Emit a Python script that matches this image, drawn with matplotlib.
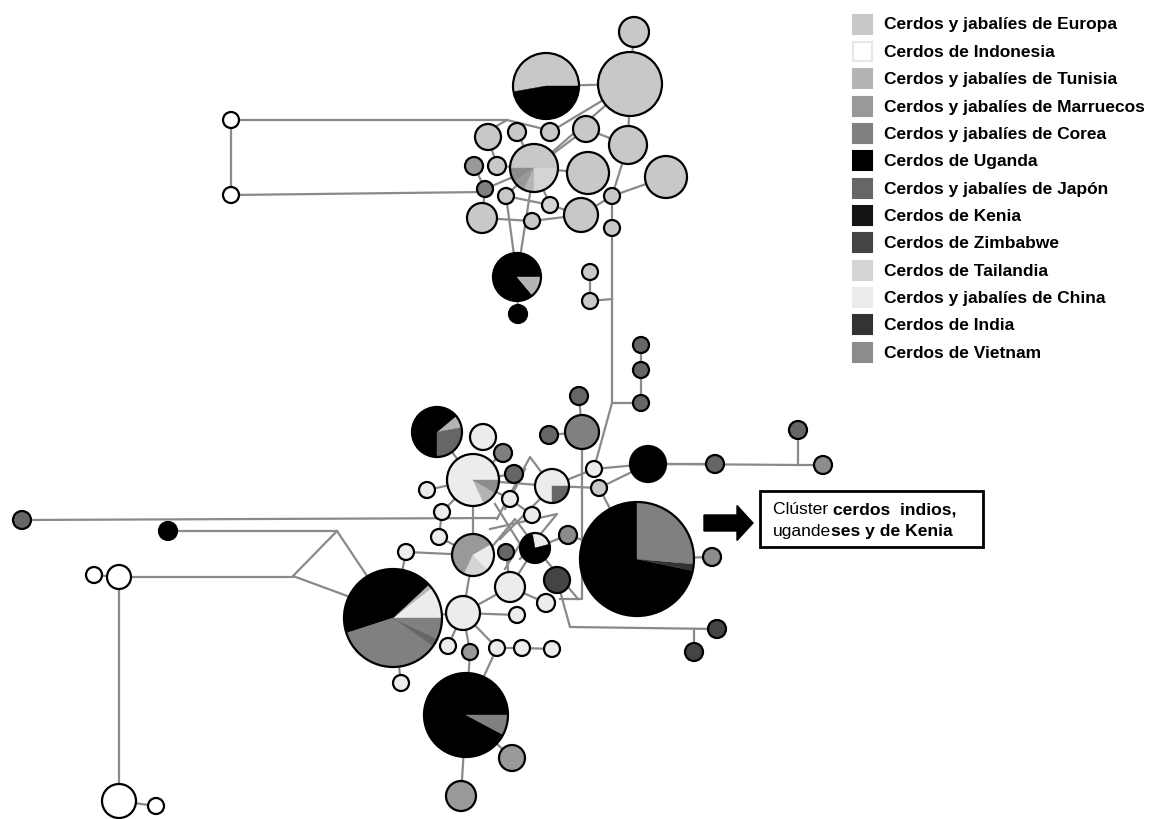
import matplotlib
matplotlib.use("Agg")
import matplotlib.pyplot as plt
from matplotlib.patches import Wedge, Circle, Rectangle, FancyArrow
from matplotlib import font_manager

# ---------------- legend categories ----------------
categories = [
    "Cerdos y jabalíes de Europa",
    "Cerdos de Indonesia",
    "Cerdos y jabalíes de Tunisia",
    "Cerdos y jabalíes de Marruecos",
    "Cerdos y jabalíes de Corea",
    "Cerdos de Uganda",
    "Cerdos y jabalíes de Japón",
    "Cerdos de Kenia",
    "Cerdos de Zimbabwe",
    "Cerdos de Tailandia",
    "Cerdos y jabalíes de China",
    "Cerdos de India",
    "Cerdos de Vietnam",
]
cat_colors = ["#c8c8c8", "#ffffff", "#b4b4b4", "#999999", "#808080", "#000000",
              "#666666", "#141414", "#444444", "#d4d4d4", "#ececec", "#333333",
              "#8c8c8c"]

# ---------------- haplotype nodes (layout position, radius) ----------------
node_x = [634, 546, 630, 231, 231, 488, 517, 550, 586, 628, 534, 474, 497, 588, 666,
          485, 506, 550, 482, 532, 581, 612, 612, 517, 518, 590, 590,
          641, 641, 641, 579, 582, 549, 437, 483, 503, 473, 514, 427, 510, 552,
          594, 599, 648, 715, 798, 823, 442, 532, 439, 473, 506, 535, 568, 406,
          637, 712, 510, 557, 546, 517, 463, 393, 448, 470, 497, 522, 552, 401,
          466, 512, 461, 717, 694, 22, 168, 94, 119, 119, 156]
node_y = [33, 87, 85, 121, 196, 138, 133, 133, 130, 146, 169, 167, 167, 174, 178,
          190, 197, 206, 219, 222, 216, 197, 229, 278, 315, 273, 302,
          346, 371, 404, 397, 433, 436, 433, 438, 454, 481, 475, 491, 500, 487,
          470, 489, 465, 465, 431, 466, 513, 516, 538, 556, 553, 549, 536, 553,
          560, 558, 588, 581, 604, 616, 614, 619, 647, 653, 649, 649, 650, 684,
          716, 759, 797, 630, 653, 521, 532, 576, 578, 802, 807]
node_r = [15, 33, 32, 8, 8, 13, 9, 9, 13, 19, 24, 9, 9, 21, 21,
          8, 8, 8, 15, 8, 17, 8, 8, 24, 9, 8, 8,
          8, 8, 8, 9, 17, 9, 25, 13, 9, 26, 9, 8, 8, 17,
          8, 8, 18, 9, 9, 9, 8, 8, 8, 21, 8, 15, 9, 8,
          57, 9, 15, 13, 9, 8, 17, 49, 8, 8, 8, 8, 8, 8,
          42, 13, 15, 9, 9, 9, 9, 8, 12, 17, 8]
# single-colour nodes: category index; pie nodes are given below (value -1)
node_cat = [0, -1, 0, 1, 1, 0, 0, 0, 0, 0, -1, 3, 0, 0, 0,
            4, 0, 9, 0, 0, 0, 0, 0, -1, 5, 0, 0,
            6, 6, 6, 6, 4, 6, -1, 10, 4, -1, 6, 10, 10, -1,
            10, 0, 5, 6, 6, 12, 10, 10, 10, -1, 6, -1, 12, 10,
            -1, 12, 10, 8, 10, 10, 10, -1, 10, 3, 10, 10, 10, 10,
            -1, 3, 3, 8, 8, 6, 5, 1, 1, 1, 1]

# pie charts: node index, start angle (deg, counter-clockwise on screen),
# sequence of (category, degrees)
pie_nodes = [1, 10, 23, 33, 36, 40, 50, 52, 55, 62, 69]
pie_start = [0, 0, 0, 10, 0, 0, 30, 15, 90, 0, 0]
pie_parts = [
    [(0, 190), (5, 170)],
    [(0, 180), (12, 35), (3, 30), (2, 25), (9, 90)],
    [(5, 310), (2, 50)],
    [(2, 30), (5, 230), (6, 100)],
    [(10, 295), (2, 35), (12, 30)],
    [(10, 270), (6, 90)],
    [(3, 215), (9, 70), (10, 75)],
    [(10, 85), (5, 275)],
    [(5, 258), (11, 7), (4, 95)],
    [(10, 38), (2, 5), (5, 155), (4, 127), (6, 10), (4, 25)],
    [(5, 332), (4, 28)],
]

# ---------------- network links ----------------
edges = [(0, 2), (1, 2), (2, 9), (2, 7), (2, 10), (9, 8), (10, 8), (9, 21), (21, 14),
         (6, 10), (5, 12), (11, 15), (12, 10), (15, 10), (16, 10), (18, 19), (18, 15),
         (19, 20), (16, 17), (10, 17), (17, 20), (10, 13), (20, 21), (21, 22),
         (16, 23), (10, 23), (23, 24), (25, 26),
         (27, 28), (28, 29), (30, 31), (31, 32), (33, 36), (36, 38), (36, 47), (36, 50),
         (36, 40), (36, 37), (36, 39), (35, 36), (40, 41), (40, 42), (41, 43), (42, 43),
         (43, 44), (42, 55), (55, 56), (53, 55), (47, 49), (49, 50), (54, 50), (54, 62),
         (50, 61), (61, 57), (61, 60), (61, 62), (61, 64), (61, 63), (61, 65), (65, 66),
         (66, 67), (57, 59), (57, 52), (57, 51), (52, 53), (39, 48), (69, 64), (69, 65),
         (69, 70), (69, 71), (62, 68), (76, 77), (78, 79)]

# routed links (median vectors / long branches): lists of waypoints
paths = [
    [(231, 121), (231, 196)],
    [(231, 121), (507, 121), (548, 131)],
    [(507, 121), (488, 132)],
    [(231, 196), (485, 193)],
    [(612, 229), (612, 404), (641, 404)],
    [(590, 302), (612, 300)],
    [(612, 404), (596, 462)],
    [(666, 465), (800, 466), (823, 466)],
    [(798, 431), (798, 466)],
    [(22, 521), (497, 519)],
    [(168, 532), (337, 532), (367, 577)],
    [(337, 532), (293, 577), (350, 598)],
    [(119, 578), (293, 578)],
    [(119, 578), (119, 802)],
    [(582, 433), (582, 600), (560, 600)],
    [(557, 581), (570, 628), (717, 630)],
    [(694, 630), (694, 653)],
    [(545, 560), (578, 600)],
    [(497, 520), (530, 458), (545, 478)],
    [(490, 530), (557, 515), (520, 560)],
    [(495, 505), (520, 545), (505, 570)],
    [(500, 540), (540, 500)],
    [(486, 555), (515, 520), (530, 540)],
    [(505, 510), (525, 470)],
]

annot_line1 = [("Clúster ", "normal"), ("cerdos  indios,", "bold")]
annot_line2 = [("ugande", "normal"), ("ses y de Kenia", "bold")]

# ---------------- drawing ----------------
W, H = 1157, 820
fig = plt.figure(figsize=(W / 100, H / 100), dpi=100)
ax = fig.add_axes([0, 0, 1, 1])
ax.set_xlim(0, W)
ax.set_ylim(H, 0)
ax.axis("off")

line_col = "#8a8a8a"
for a, b in edges:
    ax.plot([node_x[a], node_x[b]], [node_y[a], node_y[b]], color=line_col, lw=1.6,
            zorder=1, solid_capstyle="round")
for p in paths:
    ax.plot([q[0] for q in p], [q[1] for q in p], color=line_col, lw=1.6, zorder=1)

pie_lookup = {n: (s, parts) for n, s, parts in zip(pie_nodes, pie_start, pie_parts)}
for i in range(len(node_x)):
    cx, cy, r = node_x[i], node_y[i], node_r[i]
    if i in pie_lookup:
        ang, parts = pie_lookup[i]
        for c, d in parts:
            # screen CCW angles -> data angles (y axis inverted)
            ax.add_patch(Wedge((cx, cy), r, -(ang + d), -ang, facecolor=cat_colors[c],
                               edgecolor=cat_colors[c], lw=0.3, zorder=2))
            ang += d
        ax.add_patch(Circle((cx, cy), r, facecolor="none", edgecolor="black", lw=1.6,
                            zorder=3))
    else:
        ax.add_patch(Circle((cx, cy), r, facecolor=cat_colors[node_cat[i]],
                            edgecolor="black", lw=1.6, zorder=3))

# ---------------- legend ----------------
names = {f.name for f in font_manager.fontManager.ttflist}
if "Liberation Sans Narrow" in names:
    leg_font, leg_size = "Liberation Sans Narrow", 13.5
else:
    leg_font, leg_size = "Liberation Sans", 12.5
leg_y0, leg_dy = 25, 27.35
for k, (name, col) in enumerate(zip(categories, cat_colors)):
    y = leg_y0 + k * leg_dy
    ec = "#e6e6e6" if col == "#ffffff" else col
    ax.add_patch(Rectangle((853, y - 9.5), 19, 19, facecolor=col, edgecolor=ec,
                           lw=1.5, zorder=4))
    ax.text(884, y, name, fontsize=leg_size, fontweight="bold", family=leg_font,
            va="center", ha="left", color="black", zorder=5)

# ---------------- annotation ----------------
ax.add_patch(FancyArrow(704, 524, 33, 0, width=16, head_width=35, head_length=16,
                        length_includes_head=False, color="black", zorder=4))
ax.add_patch(Rectangle((760, 492), 223, 56, facecolor="white", edgecolor="black",
                       lw=2, zorder=4))
fig.canvas.draw()
renderer = fig.canvas.get_renderer()
for line, yy in ((annot_line1, 510), (annot_line2, 532)):
    x = 773
    for txt, wt in line:
        t = ax.text(x, yy, txt, fontsize=12.6, fontweight=wt, family="Liberation Sans",
                    va="center", ha="left", zorder=5)
        bb = t.get_window_extent(renderer=renderer)
        x += bb.width  # 1 data unit == 1 pixel

fig.savefig("out.png", dpi=100, facecolor="white")
